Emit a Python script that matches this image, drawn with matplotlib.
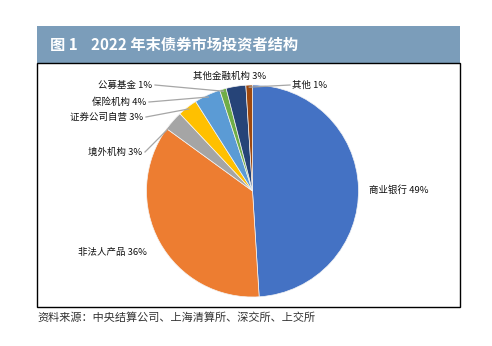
import matplotlib.pyplot as plt
import numpy as np
from matplotlib.patches import Rectangle

plt.rcParams['font.family'] = ['Noto Sans CJK SC', 'DejaVu Sans']

# investor structure of the bond market, end of 2022 (%)
investors = ['商业银行', '非法人产品', '境外机构', '证券公司自营',
             '保险机构', '公募基金', '其他金融机构', '其他']
shares = [49, 36, 3, 3, 4, 1, 3, 1]
colors = ['#4472C4', '#ED7D31', '#A5A5A5', '#FFC000',
          '#5B9BD5', '#70AD47', '#264478', '#9E480E']

title_no = '图 1'
title = '2022 年末债券市场投资者结构'
source = '资料来源：中央结算公司、上海清算所、深交所、上交所'

# layout in pixels (y measured from the top)
W, H = 492, 346
cx, cy, R = 252.5, 191, 106
label_pos = [(369, 190, 'left'), (78, 252, 'left'), (142, 152, 'right'),
             (143, 117, 'right'), (146, 102, 'right'), (152, 85, 'right'),
             (230, 76, 'center'), (292, 85, 'left')]
leader = [False, False, True, True, True, True, False, True]

fig = plt.figure(figsize=(W / 100, H / 100), dpi=100)
ax = fig.add_axes([0, 0, 1, 1])

wedges, _ = ax.pie(shares, colors=colors, startangle=90, counterclock=False,
                   center=(cx, H - cy), radius=R,
                   wedgeprops=dict(linewidth=0.5, edgecolor='#F4F4F4'))

ax.set_xlim(0, W)
ax.set_ylim(0, H)
ax.set_aspect('equal')
ax.axis('off')

# header bar and frame
ax.add_patch(Rectangle((37, H - 63), 423, 37, facecolor='#7B9DBA', edgecolor='none'))
ax.add_patch(Rectangle((37, H - 307), 423, 244, facecolor='none',
                       edgecolor='black', linewidth=1))
ax.text(50, H - 45, title_no, color='white', fontsize=11, fontweight='bold', va='center')
ax.text(91, H - 45, title, color='white', fontsize=11, fontweight='bold', va='center')

for w, name, val, (x, y, ha), ln in zip(wedges, investors, shares, label_pos, leader):
    ax.text(x, H - y, f'{name} {val}%', fontsize=6.8, color='#111111',
            ha=ha, va='center')
    if ln:
        ang = np.deg2rad((w.theta1 + w.theta2) / 2)
        px = cx + 0.98 * R * np.cos(ang)
        py = H - cy + 0.98 * R * np.sin(ang)
        sx = x + 3 if ha == 'right' else x - 2
        ax.plot([sx, px], [H - y, py], color='#A6A6A6', linewidth=0.9)

ax.text(37, H - 318, source, fontsize=8, color='#333333', va='center')

fig.savefig('out.png', dpi=100)
